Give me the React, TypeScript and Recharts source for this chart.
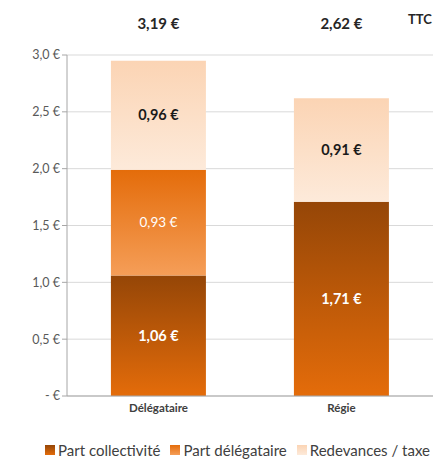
import React from "react";
import { BarChart, Bar, XAxis, YAxis, CartesianGrid, Legend, LabelList } from "recharts";

// values
const categories = ["Délégataire", "Régie"];
const partCollectivite = [1.06, 1.71];
const partDelegataire: (number | null)[] = [0.93, null];
const redevances = [0.96, 0.91];
const totals = ["3,19 €", "2,62 €"];
const yTicks = [0, 0.5, 1, 1.5, 2, 2.5, 3];

const chartData = categories.map((name, i) => ({
  name,
  collectivite: partCollectivite[i],
  delegataire: partDelegataire[i],
  redevances: redevances[i],
}));

const FONT = "Lato, 'Open Sans', sans-serif";

const euro = (v: any) => {
  if (v === null || v === undefined) return "";
  return Number(v).toFixed(2).replace(".", ",") + " €";
};

const yFormat = (v: number) => (v === 0 ? "-  €" : v.toFixed(1).replace(".", ",") + " €");

const TotalLabel = (props: any) => {
  const { x, width, index } = props;
  return (
    <text
      x={Number(x) + Number(width) / 2}
      y={23}
      textAnchor="middle"
      dominantBaseline="central"
      fontFamily={FONT}
      fontWeight={700}
      fontSize={15}
      fill="#262626"
    >
      {totals[index]}
    </text>
  );
};

const LegendContent = (props: any) => {
  const { payload } = props;
  return (
    <div
      style={{
        display: "flex",
        whiteSpace: "nowrap",
        paddingLeft: 45,
        paddingTop: 14,
        fontSize: 15,
        lineHeight: "20px",
        fontFamily: FONT,
        color: "#404040",
      }}
    >
      {(payload || []).map((entry: any) => (
        <div key={entry.value} style={{ display: "flex", alignItems: "center", marginRight: 10 }}>
          <svg width={10} height={10} style={{ marginRight: 3 }}>
            <rect width={10} height={10} fill={entry.color} />
          </svg>
          <span>{entry.value}</span>
        </div>
      ))}
    </div>
  );
};

const App = () => {
  return (
    <div style={{ position: "absolute", left: 0, top: 0, width: 441, height: 460, background: "#fff", fontFamily: FONT }}>
      <BarChart
        width={441}
        height={460}
        data={chartData}
        margin={{ top: 55, right: 8, left: 0, bottom: 0 }}
        barCategoryGap="24%"
      >
        <defs>
          <linearGradient id="gradCollectivite" x1="0" y1="0" x2="0" y2="1">
            <stop offset="0%" stopColor="#954607" />
            <stop offset="100%" stopColor="#E46C0A" />
          </linearGradient>
          <linearGradient id="gradDelegataire" x1="0" y1="0" x2="0" y2="1">
            <stop offset="0%" stopColor="#E46C0A" />
            <stop offset="100%" stopColor="#F59E58" />
          </linearGradient>
          <linearGradient id="gradRedevances" x1="0" y1="0" x2="0" y2="1">
            <stop offset="0%" stopColor="#FBD4B4" />
            <stop offset="100%" stopColor="#FDEADA" />
          </linearGradient>
        </defs>
        <CartesianGrid vertical={false} stroke="#D9D9D9" />
        <XAxis
          dataKey="name"
          tickLine={false}
          axisLine={{ stroke: "#A6A6A6" }}
          tick={{ fontSize: 11.5, fontWeight: 700, fill: "#404040", fontFamily: FONT }}
          height={30}
        />
        <YAxis
          width={67}
          domain={[0, 3]}
          ticks={yTicks}
          tickFormatter={yFormat}
          axisLine={{ stroke: "#A6A6A6" }}
          tickLine={{ stroke: "#A6A6A6" }}
          tickSize={5}
          tick={{ fontSize: 12.5, fill: "#595959", fontFamily: FONT }}
        />
        <Legend verticalAlign="bottom" content={LegendContent} />
        <Bar dataKey="collectivite" name="Part collectivité" stackId="a" fill="url(#gradCollectivite)" isAnimationActive={false}>
          <LabelList
            dataKey="collectivite"
            position="center"
            formatter={euro}
            style={{ fill: "#FFFFFF", fontWeight: 700, fontSize: 14.5, fontFamily: FONT }}
          />
        </Bar>
        <Bar dataKey="delegataire" name="Part délégataire" stackId="a" fill="url(#gradDelegataire)" isAnimationActive={false}>
          <LabelList
            dataKey="delegataire"
            position="center"
            formatter={euro}
            style={{ fill: "#FFFFFF", fontSize: 13.5, fontFamily: FONT }}
          />
        </Bar>
        <Bar dataKey="redevances" name="Redevances / taxe" stackId="a" fill="url(#gradRedevances)" isAnimationActive={false}>
          <LabelList
            dataKey="redevances"
            position="center"
            formatter={euro}
            style={{ fill: "#1A1A1A", fontWeight: 700, fontSize: 14.5, fontFamily: FONT }}
          />
          <LabelList dataKey="redevances" content={TotalLabel} />
        </Bar>
      </BarChart>
      <div
        style={{
          position: "absolute",
          left: 408,
          top: 11,
          fontSize: 13,
          fontWeight: 700,
          color: "#262626",
          fontFamily: FONT,
        }}
      >
        TTC
      </div>
    </div>
  );
};

export default App;
